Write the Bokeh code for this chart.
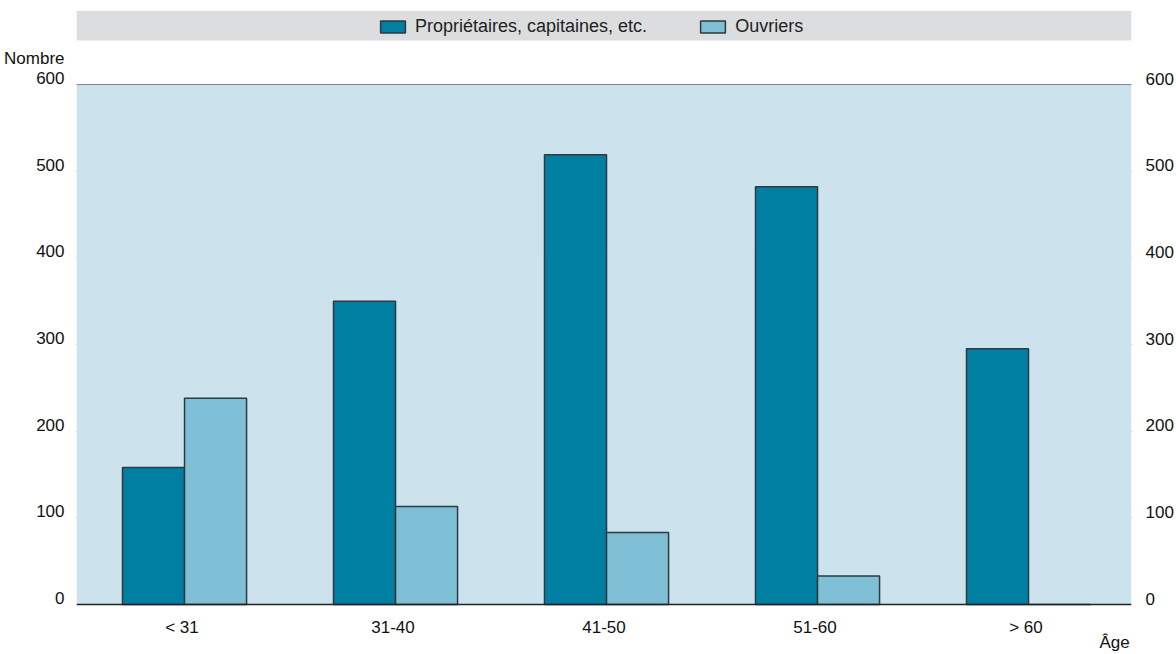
from bokeh.plotting import figure
from bokeh.models import (ColumnDataSource, FactorRange, Range1d, LinearAxis, FixedTicker,
                          BoxAnnotation, Label, Legend, LegendItem, Span)
from bokeh.core.properties import value
from bokeh.transform import dodge
from bokeh.embed import file_html
from bokeh.resources import INLINE

categories = ["< 31", "31-40", "41-50", "51-60", "> 60"]
proprietaires = [158, 350, 519, 482, 295]
ouvriers = [238, 113, 83, 33, 0]
y_ticks = [0, 100, 200, 300, 400, 500, 600]
series_names = ["Propriétaires, capitaines, etc.", "Ouvriers"]
y_title = "Nombre"
x_title = "Âge"

DARK = "#007FA3"
LIGHT = "#7FBFD6"
BG = "#CCE3EE"
BAND = "#DCDDDF"
EDGE = "#2F3A40"
TXT = "#111111"
FONT = "Liberation Sans"
FS = "17px"

src = ColumnDataSource(dict(cat=categories, a=proprietaires, b=ouvriers,
                            base=[0] * len(categories)))

YMIN, YMAX = -57.7, 685.4
SHIFT = 6.9  # label offset (in data units) so tick labels sit just above their lines
p = figure(width=1176, height=654, x_range=FactorRange(*categories, range_padding=0),
           y_range=Range1d(YMIN, YMAX), output_backend="svg", toolbar_location=None,
           x_axis_location=None, y_axis_location=None,
           min_border_left=76, min_border_right=44, min_border_top=10, min_border_bottom=0)
p.extra_y_ranges = {"lbl": Range1d(YMIN - SHIFT, YMAX - SHIFT)}
p.outline_line_color = None
p.background_fill_color = "white"
p.border_fill_color = "white"

# plot background (0..600) and legend band
p.add_layout(BoxAnnotation(bottom=0, top=600, fill_color=BG, fill_alpha=1, line_color=None, level="underlay"))
p.add_layout(BoxAnnotation(bottom=650.8, top=YMAX, fill_color=BAND, fill_alpha=1, line_color=None, level="underlay"))

r1 = p.vbar(x=dodge("cat", -0.135, range=p.x_range), top="a", bottom="base", width=0.294, source=src,
            fill_color=DARK, line_color=EDGE, line_width=1.5)
r2 = p.vbar(x=dodge("cat", 0.159, range=p.x_range), top="b", bottom="base", width=0.294, source=src,
            fill_color=LIGHT, line_color=EDGE, line_width=1.5)

# grid
p.xgrid.grid_line_color = None
p.ygrid.ticker = FixedTicker(ticks=y_ticks[1:])
p.ygrid.grid_line_color = "#333333"
p.ygrid.grid_line_width = 1

# x axis line and category labels
p.add_layout(Span(location=0, dimension="width", line_color="#222222", line_width=1.5))
p.text(x="cat", y="base", text="cat", source=src, y_offset=23, text_align="center",
       text_baseline="middle", text_font=value(FONT), text_font_size=FS, text_color=TXT)

def style_axis(ax, standoff):
    ax.axis_line_color = None
    ax.major_tick_line_color = None
    ax.minor_tick_line_color = None
    ax.major_tick_out = 0
    ax.major_tick_in = 0
    ax.minor_tick_out = 0
    ax.minor_tick_in = 0
    ax.major_label_standoff = standoff
    ax.major_label_text_font = FONT
    ax.major_label_text_font_size = FS
    ax.major_label_text_color = TXT

y_title_pos = 623
ly = LinearAxis(y_range_name="lbl", ticker=FixedTicker(ticks=y_ticks + [y_title_pos]),
                major_label_overrides={y_title_pos: y_title})
style_axis(ly, 12)
p.add_layout(ly, "left")

ry = LinearAxis(y_range_name="lbl", ticker=FixedTicker(ticks=y_ticks))
style_axis(ry, 14)
p.add_layout(ry, "right")

p.add_layout(Label(x=4.92, y=-44, text=x_title, text_align="center", text_baseline="middle",
                   text_font=FONT, text_font_size=FS, text_color=TXT))

legend = Legend(items=[LegendItem(label=series_names[0], renderers=[r1]),
                       LegendItem(label=series_names[1], renderers=[r2])],
                orientation="horizontal", location=(301, 617), padding=0, margin=0,
                spacing=50, glyph_width=31, glyph_height=15, label_standoff=7,
                label_text_font=FONT, label_text_font_size="18px", label_text_color="#222222",
                background_fill_alpha=0, border_line_color=None)
p.add_layout(legend, "center")

open("out.html", "w").write(file_html(p, INLINE))
